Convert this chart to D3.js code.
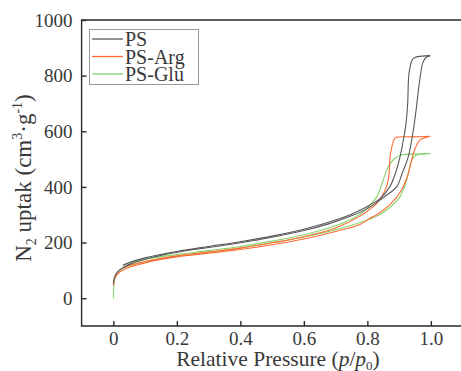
<!DOCTYPE html>
<html><head><meta charset="utf-8">
<script src="https://cdn.jsdelivr.net/npm/d3@7"></script>
<style>body{margin:0;background:#fff}svg{display:block}</style>
</head><body>
<svg id="c" width="461" height="371"></svg>
<script>
const seriesNames = ["PS", "PS-Arg", "PS-Glu"];
const seriesColors = ["#585858", "#ff6a33", "#86d46a"];
const xTicks = [0, 0.2, 0.4, 0.6, 0.8, 1.0];
const xTickLabels = ["0", "0.2", "0.4", "0.6", "0.8", "1.0"];
const yTicks = [0, 200, 400, 600, 800, 1000];
const yTickLabels = ["0", "200", "400", "600", "800", "1000"];

// [relative pressure, uptake]
const psAds = [[0,52],[0.002,68],[0.005,80],[0.01,90],[0.02,102],[0.035,113],[0.06,126],[0.1,140],[0.15,154],[0.21,167],[0.3,182],[0.4,199],[0.5,219],[0.6,243],[0.68,268],[0.75,296],[0.8,322],[0.84,353],[0.87,378],[0.893,401],[0.91,450],[0.929,509],[0.945,605],[0.955,690],[0.962,760],[0.968,808],[0.974,844],[0.985,866],[0.998,872]];
const psDes = [[0.998,872],[0.982,871],[0.945,862],[0.932,814],[0.927,700],[0.922,630],[0.919,605],[0.912,560],[0.903,509],[0.89,455],[0.871,401],[0.84,358],[0.808,335],[0.78,318],[0.75,302],[0.7,281],[0.6,248],[0.5,223],[0.4,203],[0.3,186],[0.2,168],[0.1,145],[0.05,128],[0.03,118]];
const argAds = [[0,45],[0.002,60],[0.005,72],[0.01,82],[0.02,94],[0.035,104],[0.06,115],[0.1,127],[0.15,139],[0.21,150],[0.3,162],[0.4,175],[0.5,192],[0.6,213],[0.7,240],[0.777,265],[0.808,287],[0.83,300],[0.871,336],[0.908,389],[0.929,449],[0.945,521],[0.955,550],[0.966,569],[0.985,578],[0.998,582]];
const argDes = [[0.998,582],[0.95,580],[0.895,579],[0.887,575],[0.874,527],[0.866,425],[0.855,385],[0.83,341],[0.808,320],[0.777,295],[0.7,252],[0.6,221],[0.5,199],[0.4,180],[0.3,166],[0.2,152],[0.1,132],[0.05,118],[0.03,110]];
const gluAds = [[0,0],[0.001,25],[0.002,47],[0.004,65],[0.008,80],[0.015,95],[0.03,107],[0.06,120],[0.115,135],[0.21,153],[0.3,166],[0.4,180],[0.5,199],[0.6,220],[0.7,246],[0.777,272],[0.808,285],[0.83,295],[0.861,317],[0.903,365],[0.924,425],[0.94,497],[0.955,515],[0.975,518],[0.998,520]];
const gluDes = [[0.998,520],[0.955,518],[0.908,515],[0.887,503],[0.866,473],[0.85,425],[0.83,365],[0.808,335],[0.777,302],[0.7,260],[0.6,228],[0.5,205],[0.4,186],[0.3,171],[0.2,157],[0.1,140],[0.05,127],[0.03,118]];

const series = [
  {name: seriesNames[0], color: seriesColors[0], branches: [psAds, psDes]},
  {name: seriesNames[1], color: seriesColors[1], branches: [argAds, argDes]},
  {name: seriesNames[2], color: seriesColors[2], branches: [gluAds, gluDes]}
];

const svg = d3.select("#c");
const x = d3.scaleLinear().domain([-0.1, 1.1]).range([81.6, 462.6]);
const y = d3.scaleLinear().domain([-100, 1000]).range([326, 20]);
const font = "'Liberation Serif','Times New Roman',serif";
const ink = "#2a2a2a";
const txt = "#383838";

const line = d3.line().x(d => x(d[0])).y(d => y(d[1])).curve(d3.curveCatmullRom.alpha(0.5));

[2,1,0].forEach(i => {
  series[i].branches.forEach(b => {
    svg.append("path").attr("d", line(b)).attr("fill", "none")
      .attr("stroke", series[i].color).attr("stroke-width", 1.1);
  });
});

// frame
svg.append("path")
  .attr("d", `M${x(1.1)},${y(1000)}H${x(-0.1)}V${y(-100)}H${x(1.1)}`)
  .attr("fill", "none").attr("stroke", ink).attr("stroke-width", 1.4);

const xAxis = d3.axisBottom(x).tickValues(xTicks).tickSize(-5).tickPadding(6)
  .tickFormat((d, i) => xTickLabels[i]);
const gx = svg.append("g").attr("transform", `translate(0,${y(-100)})`).call(xAxis);
gx.select(".domain").remove();
gx.selectAll(".tick line").attr("stroke", ink).attr("stroke-width", 1.4);
gx.selectAll(".tick text").attr("font-family", font).attr("font-size", 19).attr("fill", txt);

const yAxis = d3.axisLeft(y).tickValues(yTicks).tickSize(-5).tickPadding(9)
  .tickFormat((d, i) => yTickLabels[i]);
const gy = svg.append("g").attr("transform", `translate(${x(-0.1)},0)`).call(yAxis);
gy.select(".domain").remove();
gy.selectAll(".tick line").attr("stroke", ink).attr("stroke-width", 1.4);
gy.selectAll(".tick text").attr("font-family", font).attr("font-size", 19).attr("fill", txt);

// x title
const xt = svg.append("text").attr("x", 278).attr("y", 366).attr("text-anchor", "middle")
  .attr("font-family", font).attr("font-size", 21.5).attr("fill", txt);
xt.append("tspan").text("Relative Pressure (");
xt.append("tspan").attr("font-style", "italic").text("p");
xt.append("tspan").text("/");
xt.append("tspan").attr("font-style", "italic").text("p");
xt.append("tspan").attr("font-size", 13).attr("dy", 4).text("0");
xt.append("tspan").attr("dy", -4).text(")");

// y title
const yt = svg.append("text").attr("transform", "translate(31,178) rotate(-90)")
  .attr("text-anchor", "middle").attr("font-family", font).attr("font-size", 23).attr("fill", txt);
yt.append("tspan").text("N");
yt.append("tspan").attr("font-size", 14).attr("dy", 5).text("2");
yt.append("tspan").attr("dy", -5).text(" uptak (cm");
yt.append("tspan").attr("font-size", 14).attr("dy", -9).text("3");
yt.append("tspan").attr("dy", 9).text("·g");
yt.append("tspan").attr("font-size", 14).attr("dy", -9).text("-1");
yt.append("tspan").attr("dy", 9).text(")");

// legend
const lg = svg.append("g");
lg.append("rect").attr("x", 89.5).attr("y", 29.5).attr("width", 109).attr("height", 55)
  .attr("fill", "#fff").attr("stroke", "#999").attr("stroke-width", 1);
series.forEach((s, i) => {
  const yy = 39 + i * 17.5;
  lg.append("line").attr("x1", 92).attr("x2", 123).attr("y1", yy).attr("y2", yy)
    .attr("stroke", s.color).attr("stroke-width", 1.3);
  lg.append("text").attr("x", 125).attr("y", yy + 7).attr("font-family", font)
    .attr("font-size", 20).attr("fill", txt).text(s.name);
});
</script>
</body></html>
